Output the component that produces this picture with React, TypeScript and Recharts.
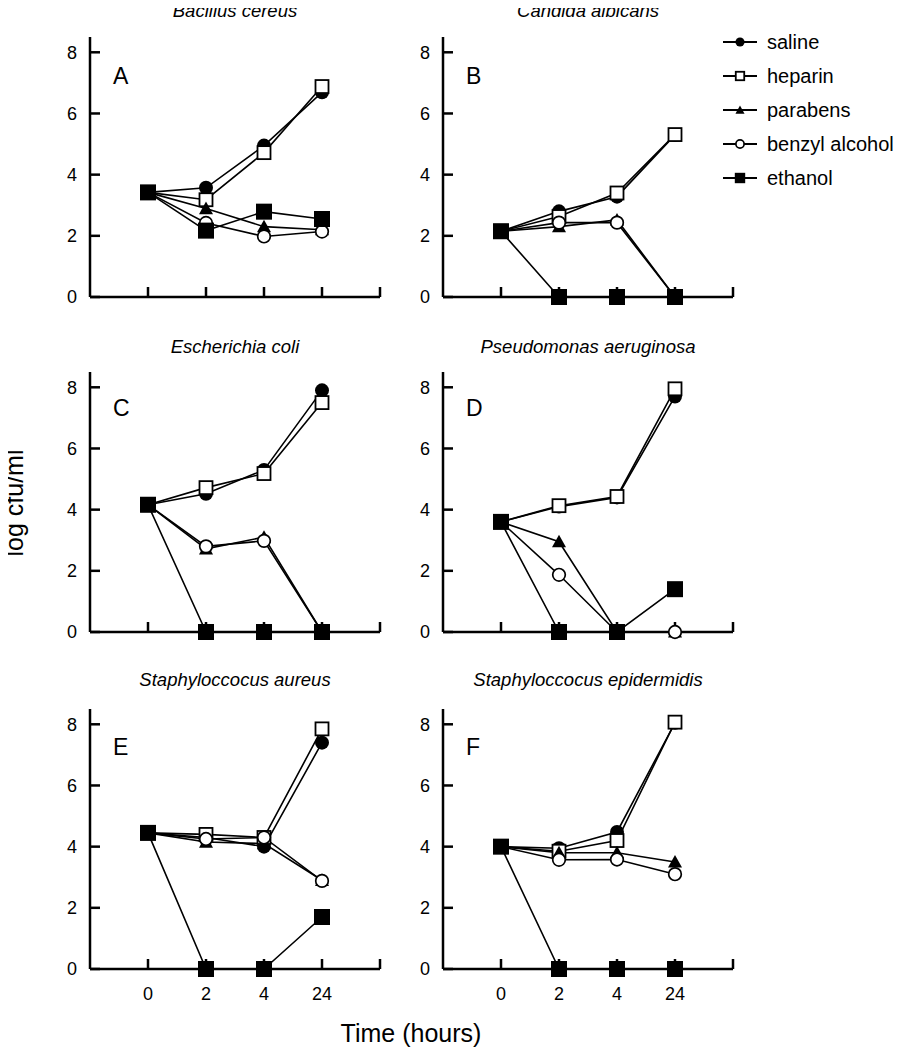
import { LineChart, Line, XAxis, YAxis, Legend } from 'recharts';

const TIMES = ['0', '2', '4', '24'];
const X_TICKS = [0, 1, 2, 3, 4];
const Y_TICKS = [0, 2, 4, 6, 8];

const TREATMENTS = ['saline', 'heparin', 'parabens', 'benzyl alcohol', 'ethanol'];
const KEYS = ['saline', 'heparin', 'parabens', 'benzyl', 'ethanol'];
const SHAPES = ['circle', 'openSquare', 'triangle', 'openCircle', 'square'];

// A - Bacillus cereus
const bcSaline = [3.42, 3.57, 4.95, 6.69];
const bcHeparin = [3.42, 3.18, 4.72, 6.88];
const bcParabens = [3.42, 2.89, 2.3, 2.2];
const bcBenzyl = [3.42, 2.42, 1.98, 2.14];
const bcEthanol = [3.42, 2.17, 2.79, 2.55];

// B - Candida albicans
const caSaline = [2.15, 2.8, 3.28, 5.3];
const caHeparin = [2.15, 2.63, 3.4, 5.31];
const caParabens = [2.15, 2.3, 2.52, 0];
const caBenzyl = [2.15, 2.43, 2.43, 0];
const caEthanol = [2.15, 0, 0, 0];

// C - Escherichia coli
const ecSaline = [4.16, 4.52, 5.3, 7.9];
const ecHeparin = [4.16, 4.72, 5.18, 7.5];
const ecParabens = [4.16, 2.72, 3.1, 0];
const ecBenzyl = [4.16, 2.8, 2.98, 0];
const ecEthanol = [4.16, 0, 0, 0];

// D - Pseudomonas aeruginosa
const paSaline = [3.6, 4.1, 4.4, 7.7];
const paHeparin = [3.6, 4.13, 4.43, 7.95];
const paParabens = [3.6, 2.95, 0, 0];
const paBenzyl = [3.6, 1.87, 0, 0];
const paEthanol = [3.6, 0, 0, 1.4];

// E - Staphyloccocus aureus
const saSaline = [4.45, 4.3, 4.0, 7.4];
const saHeparin = [4.45, 4.4, 4.3, 7.85];
const saParabens = [4.45, 4.15, 4.1, 2.9];
const saBenzyl = [4.45, 4.25, 4.3, 2.88];
const saEthanol = [4.45, 0, 0, 1.7];

// F - Staphyloccocus epidermidis
const seSaline = [4.0, 3.95, 4.48, 8.05];
const seHeparin = [4.0, 3.85, 4.2, 8.07];
const seParabens = [4.0, 3.8, 3.8, 3.5];
const seBenzyl = [4.0, 3.57, 3.58, 3.1];
const seEthanol = [4.0, 0, 0, 0];

type Panel = {
  letter: string;
  title: string;
  series: number[][];
  left: number; // page x of y axis
  bottom: number; // page y of x axis
  titleY: number;
  letterY: number;
  showX: boolean;
  legend?: boolean;
};

const PANELS: Panel[] = [
  { letter: 'A', title: 'Bacillus cereus', series: [bcSaline, bcHeparin, bcParabens, bcBenzyl, bcEthanol], left: 90, bottom: 297, titleY: 17, letterY: 84, showX: false },
  { letter: 'B', title: 'Candida albicans', series: [caSaline, caHeparin, caParabens, caBenzyl, caEthanol], left: 443, bottom: 297, titleY: 17, letterY: 84, showX: false, legend: true },
  { letter: 'C', title: 'Escherichia coli', series: [ecSaline, ecHeparin, ecParabens, ecBenzyl, ecEthanol], left: 90, bottom: 632, titleY: 353, letterY: 416, showX: false },
  { letter: 'D', title: 'Pseudomonas aeruginosa', series: [paSaline, paHeparin, paParabens, paBenzyl, paEthanol], left: 443, bottom: 632, titleY: 353, letterY: 416, showX: false },
  { letter: 'E', title: 'Staphyloccocus aureus', series: [saSaline, saHeparin, saParabens, saBenzyl, saEthanol], left: 90, bottom: 969, titleY: 686, letterY: 755, showX: true },
  { letter: 'F', title: 'Staphyloccocus epidermidis', series: [seSaline, seHeparin, seParabens, seBenzyl, seEthanol], left: 443, bottom: 969, titleY: 686, letterY: 755, showX: true },
];

const PLOT_W = 290;
const PLOT_H = 260;
const Y_W = 45;
const X_H = 45;
const TOP = 10;
const OFF = 8; // body margin

function Marker({ shape, cx, cy, s = 1 }: { shape: string; cx: number; cy: number; s?: number }) {
  if (cx == null || cy == null) return null;
  switch (shape) {
    case 'circle':
      return <circle cx={cx} cy={cy} r={7 * s} fill="#000" />;
    case 'openCircle':
      return <circle cx={cx} cy={cy} r={6.3 * s} fill="#fff" stroke="#000" strokeWidth={1.7} />;
    case 'square':
      return <rect x={cx - 8 * s} y={cy - 8 * s} width={16 * s} height={16 * s} fill="#000" />;
    case 'openSquare':
      return <rect x={cx - 6.5 * s} y={cy - 6.5 * s} width={13 * s} height={13 * s} fill="#fff" stroke="#000" strokeWidth={1.8} />;
    default: {
      const h = 7 * s;
      return <polygon points={`${cx},${cy - h} ${cx + h},${cy + h * 0.8} ${cx - h},${cy + h * 0.8}`} fill="#000" />;
    }
  }
}

function LegendBox(props: any) {
  const payload = [...(props.payload ?? [])].sort(
    (a: any, b: any) => KEYS.indexOf(a.dataKey) - KEYS.indexOf(b.dataKey)
  );
  return (
    <div style={{ fontSize: 20, color: '#000' }}>
      {payload.map((entry: any) => {
        const i = KEYS.indexOf(entry.dataKey);
        return (
          <div key={entry.dataKey} style={{ display: 'flex', alignItems: 'center', height: 34 }}>
            <svg width={34} height={20}>
              <line x1={0} y1={10} x2={34} y2={10} stroke="#000" strokeWidth={2} />
              <Marker shape={SHAPES[i]} cx={17} cy={10} s={0.65} />
            </svg>
            <span style={{ marginLeft: 10 }}>{TREATMENTS[i]}</span>
          </div>
        );
      })}
    </div>
  );
}

function PanelChart({ p }: { p: Panel }) {
  const rows = TIMES.map((_, t) => {
    const row: Record<string, number> = { t };
    KEYS.forEach((k, i) => {
      row[k] = p.series[i][t];
    });
    return row;
  });
  const right = p.legend ? 170 : 5;
  const width = Y_W + PLOT_W + right;
  return (
    <div style={{ position: 'absolute', left: p.left - Y_W - OFF, top: p.bottom - PLOT_H - TOP - OFF }}>
      <LineChart width={width} height={TOP + PLOT_H + X_H} data={rows} margin={{ top: TOP, right, bottom: 0, left: 0 }}>
        <XAxis
          type="number"
          dataKey="t"
          domain={[-1, 4]}
          ticks={X_TICKS}
          interval={0}
          height={X_H}
          tickSize={-10}
          tickMargin={28}
          tickFormatter={(v: number) => (p.showX ? TIMES[v] ?? '' : '')}
          tick={{ fill: '#000', fontSize: 18 }}
          axisLine={{ stroke: '#000', strokeWidth: 2.5 }}
          tickLine={{ stroke: '#000', strokeWidth: 2.5 }}
        />
        <YAxis
          type="number"
          domain={[0, 8.5]}
          ticks={Y_TICKS}
          interval={0}
          width={Y_W}
          tickSize={-10}
          tickMargin={23}
          tick={{ fill: '#000', fontSize: 18 }}
          axisLine={{ stroke: '#000', strokeWidth: 2.5 }}
          tickLine={{ stroke: '#000', strokeWidth: 2.5 }}
        />
        {KEYS.map((k, i) => (
          <Line
            key={k}
            dataKey={k}
            name={TREATMENTS[i]}
            type="linear"
            stroke="#000"
            strokeWidth={1.6}
            isAnimationActive={false}
            activeDot={false}
            dot={(d: any) => <Marker key={`${k}-${d.index}`} shape={SHAPES[i]} cx={d.cx} cy={d.cy} />}
          />
        ))}
        {p.legend && (
          <Legend
            layout="vertical"
            align="center"
            verticalAlign="middle"
            content={<LegendBox />}
            wrapperStyle={{ left: 723 - (p.left - Y_W), top: 25 - (p.bottom - PLOT_H - TOP), width: 'auto', height: 'auto' }}
          />
        )}
      </LineChart>
    </div>
  );
}

export default function App() {
  return (
    <div style={{ position: 'relative', width: 893, height: 1042, fontFamily: '"Liberation Sans", Arial, sans-serif', color: '#000' }}>
      {PANELS.map((p) => (
        <PanelChart key={p.letter} p={p} />
      ))}
      <svg width={901} height={1050} style={{ position: 'absolute', left: -OFF, top: -OFF, pointerEvents: 'none', overflow: 'visible' }}>
        <g fill="#000">
          {PANELS.map((p) => (
            <g key={p.letter}>
              <text x={p.left + PLOT_W / 2} y={p.titleY} textAnchor="middle" fontSize={18.5} fontStyle="italic">
                {p.title}
              </text>
              <text x={p.left + 23} y={p.letterY} fontSize={23}>
                {p.letter}
              </text>
            </g>
          ))}
          <text x={23} y={503} transform="rotate(-90, 23, 503)" textAnchor="middle" fontSize={25}>
            log cfu/ml
          </text>
          <text x={411} y={1042} textAnchor="middle" fontSize={25}>
            Time (hours)
          </text>
        </g>
      </svg>
    </div>
  );
}
